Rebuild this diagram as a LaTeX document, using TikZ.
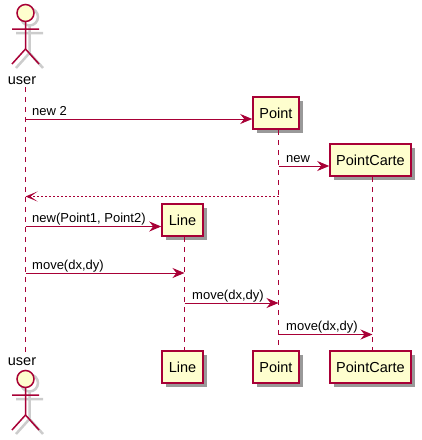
\documentclass[tikz,border=0pt]{standalone}
\usepackage{fontspec}
\setmainfont{Liberation Sans}
\usetikzlibrary{arrows.meta,shadows}
\definecolor{umlred}{HTML}{A80036}
\definecolor{umlfill}{HTML}{FEFECE}
\tikzset{
	box/.style={draw=umlred,fill=umlfill,line width=1.5pt,minimum height=32pt,inner sep=0pt,font=\fontsize{14.5}{16}\selectfont,drop shadow={shadow xshift=4pt,shadow yshift=-4pt,fill=black!50,opacity=0.8}},
	life/.style={draw=umlred,line width=1pt,dash pattern=on 5pt off 5pt},
	msg/.style={draw=umlred,line width=1pt,-{Stealth[length=12pt,width=10pt,inset=4pt]}},
	back/.style={draw=umlred,line width=1pt,dash pattern=on 2pt off 2pt,-{Stealth[length=12pt,width=10pt,inset=7pt,line width=1pt,sep=0pt]}},
	lbl/.style={anchor=base west,inner sep=0pt,font=\fontsize{13}{15}\selectfont},
	who/.style={inner sep=0pt,font=\fontsize{14.5}{16}\selectfont}
}
\begin{document}
\begin{tikzpicture}[x=1pt,y=-1pt]
	\def\xUser{25.5}
\useasboundingbox (0,0) rectangle (422,440);

%Participants
\node[box,minimum width=46pt] (PointTop) at (276,113) {Point};
\node[box,minimum width=81pt] (CarteTop) at (370.5,160) {PointCarte};
\node[box,minimum width=41pt] (LineTop) at (182.5,220) {Line};
\node[box,minimum width=41pt] (LineBot) at (182.5,367) {Line};
\node[box,minimum width=46pt] (PointBot) at (276,367) {Point};
\node[box,minimum width=81pt] (CarteBot) at (370.5,367) {PointCarte};
\node[who] (UserTop) at (22,81) {user};
\node[who] (UserBot) at (22,362) {user};

%Acteurs
\foreach \yA in {13,379}{
	\draw[black!20,line width=2.5pt,xshift=4pt,yshift=-4pt] (\xUser,\yA) circle (8.5);
	\draw[black!20,line width=2.5pt,xshift=4pt,yshift=-4pt] (\xUser,\yA+8.5) -- (\xUser,\yA+36) (12,\yA+16) -- (39,\yA+16) (12,\yA+51) -- (\xUser,\yA+36) -- (39,\yA+51);
	\draw[umlred,line width=1.5pt,fill=umlfill] (\xUser,\yA) circle (8.5);
	\draw[umlred,line width=1.5pt] (\xUser,\yA+8.5) -- (\xUser,\yA+36) (12,\yA+16) -- (39,\yA+16) (12,\yA+51) -- (\xUser,\yA+36) -- (39,\yA+51);
}

%Lignes de vie
\coordinate (UserStart) at (\xUser,87);
\coordinate (UserEnd) at (\xUser,352);
\draw[life] (UserStart) -- (UserEnd);
\draw[life] ([xshift=2.5pt]PointTop.south) -- ([xshift=2.5pt]PointBot.north);
\draw[life] ([xshift=2pt]CarteTop.south) -- ([xshift=2pt]CarteBot.north);
\draw[life] ([xshift=2pt]LineTop.south) -- ([xshift=2pt]LineBot.north);

%Messages
\coordinate (UserA) at (\xUser,119);
\coordinate (PointA) at (278.5,166);
\coordinate (PointB) at (278.5,196.5);
\coordinate (UserB) at (\xUser,196.5);
\coordinate (UserC) at (\xUser,226.5);
\coordinate (UserD) at (\xUser,273);
\coordinate (LineD) at (184.5,273);
\coordinate (LineE) at (184.5,303);
\coordinate (PointE) at (278.5,303);
\coordinate (PointF) at (278.5,334.5);
\coordinate (CarteF) at (372.5,334.5);

\draw[msg] (UserA) -- (UserA -| PointTop.west);
\draw[msg] (PointA) -- (PointA -| CarteTop.west);
\draw[back] (PointB) -- (UserB);
\draw[msg] (UserC) -- (UserC -| LineTop.west);
\draw[msg] (UserD) -- (LineD);
\draw[msg] (LineE) -- (PointE);
\draw[msg] (PointF) -- (CarteF);

\node[lbl] (TxtA) at (32,115) {new 2};
\node[lbl] (TxtB) at (286,162) {new};
\node[lbl] (TxtC) at (32,222.5) {new(Point1, Point2)};
\node[lbl] (TxtD) at (32,269) {move(dx,dy)};
\node[lbl] (TxtE) at (192,299) {move(dx,dy)};
\node[lbl] (TxtF) at (286,330.5) {move(dx,dy)};
\end{tikzpicture}
\end{document}
